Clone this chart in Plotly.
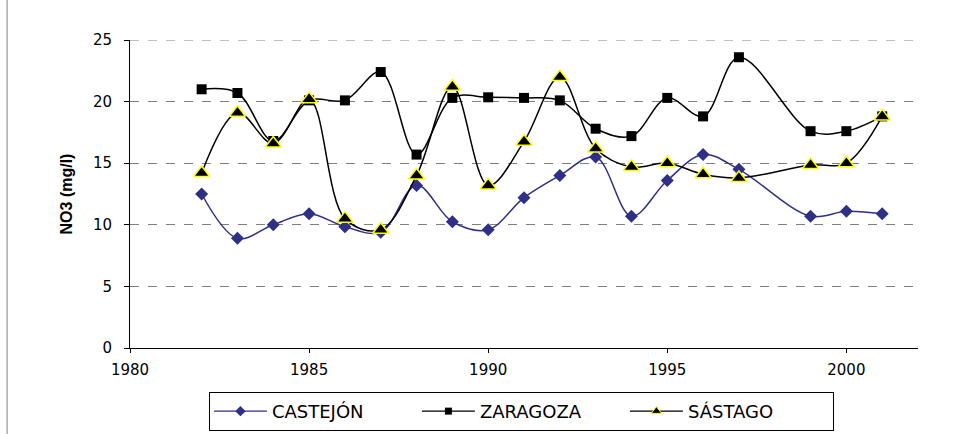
import plotly.graph_objects as go

years_c = [1982,1983,1984,1985,1986,1987,1988,1989,1990,1991,1992,1993,1994,1995,1996,1997,1999,2000,2001]
castejon = [12.5,8.9,10.0,10.9,9.85,9.4,13.2,10.25,9.6,12.2,14.0,15.5,10.7,13.6,15.7,14.5,10.7,11.1,10.9]
zaragoza = [21.0,20.7,16.8,20.1,20.1,22.4,15.7,20.3,20.35,20.3,20.1,17.8,17.2,20.3,18.8,23.6,17.6,17.6,18.8]
sastago = [14.2,19.1,16.6,20.2,10.5,9.6,14.0,21.2,13.2,16.75,22.0,16.2,14.7,15.0,14.1,13.8,14.85,15.0,18.8]
x_ticks = [1980,1985,1990,1995,2000]
y_ticks = [0,5,10,15,20,25]

NAVY = "#2E2F85"
series = [
    ("CASTEJÓN", castejon, NAVY, "diamond", 10, 8, None),
    ("ZARAGOZA", zaragoza, "black", "square", 10, 7, None),
    ("SÁSTAGO", sastago, "black", "triangle-up", 14, 9, "#FFFF00"),
]
fig = go.Figure()
for name, vals, col, sym, size, lsize, edge in series:
    mline = dict(color=edge, width=1.5) if edge else dict(width=0)
    fig.add_trace(go.Scatter(x=years_c, y=vals, name=name, mode="lines+markers", showlegend=False,
        legendgroup=name,
        line=dict(color=col, width=1.5, shape="spline", smoothing=1.0),
        marker=dict(symbol=sym, size=size, color=col, line=mline)))
for name, vals, col, sym, size, lsize, edge in series:
    mline = dict(color=edge, width=1) if edge else dict(width=0)
    fig.add_trace(go.Scatter(x=[None], y=[None], name=name, mode="lines+markers",
        legendgroup=name,
        line=dict(color=col, width=1.2),
        marker=dict(symbol=sym, size=lsize, color=col, line=mline)))

# top dashed gridline at the last tick (plotly drops gridlines at the range edge)
fig.add_shape(type="line", xref="paper", yref="y", x0=0, x1=1, y0=y_ticks[-1], y1=y_ticks[-1],
              line=dict(color="#808080", width=1, dash="dash"), layer="below")

tickfont = dict(family="DejaVu Sans, Liberation Sans, Arial, sans-serif", size=15, color="black")
fig.update_layout(
    width=971, height=434,
    margin=dict(l=130, r=53, t=40, b=86, autoexpand=False),
    paper_bgcolor="white", plot_bgcolor="white",
    font=dict(family="DejaVu Sans, Liberation Sans, Arial, sans-serif", size=14, color="black"),
    xaxis=dict(range=[1980, 2002], tickvals=x_ticks, showgrid=False, showline=True,
               linecolor="black", linewidth=1, ticks="outside", ticklen=4, tickcolor="black",
               zeroline=False, tickfont=tickfont, ticklabelstandoff=4),
    yaxis=dict(range=[0, 25], tickvals=y_ticks, showgrid=True, gridcolor="#808080",
               griddash="dash", gridwidth=1, showline=True, linecolor="black", linewidth=1,
               ticks="outside", ticklen=5, tickcolor="black", zeroline=False,
               ticklabelstandoff=9,
               title=dict(text="<b>NO3 (mg/l)</b>",
                          font=dict(family="Liberation Sans, Arial, sans-serif", size=16),
                          standoff=16),
               tickfont=tickfont),
    legend=dict(orientation="h", xref="container", yref="container", x=0.537, y=0.052,
                xanchor="center", yanchor="middle",
                bordercolor="black", borderwidth=1,
                font=dict(family="DejaVu Sans, Liberation Sans, Arial, sans-serif", size=18),
                itemwidth=53, entrywidth=140, entrywidthmode="pixels", tracegroupgap=0),
    showlegend=True,
)
fig.add_shape(type="line", xref="paper", yref="paper", x0=-0.156, x1=-0.156, y0=-0.3, y1=1.15,
              line=dict(color="#808080", width=1))
fig.write_html("out.html", config={"displayModeBar": False},
               post_script="document.body.style.margin='0';document.body.style.overflow='hidden';")
